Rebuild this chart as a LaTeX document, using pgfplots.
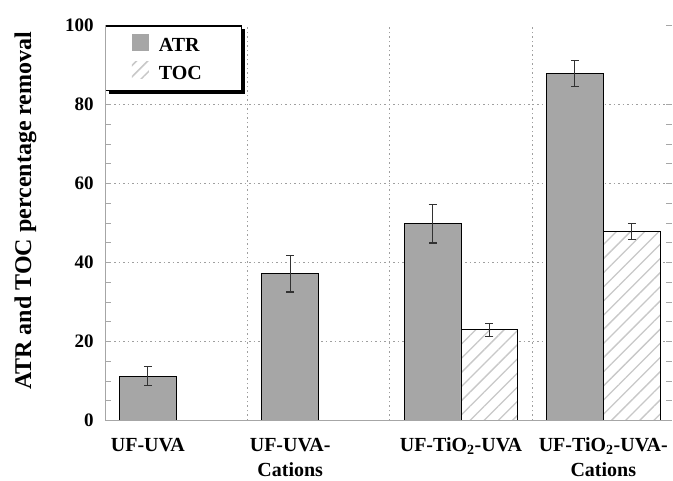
\documentclass[border=0pt]{standalone}
\usepackage{pgfplots}
\pgfplotsset{compat=1.18}
\usepackage{fontspec}
\setmainfont{Liberation Serif}
\usetikzlibrary{patterns.meta,shadows}
\definecolor{barfill}{RGB}{166,166,166}
\definecolor{hatchcol}{RGB}{200,200,200}
\definecolor{errcol}{RGB}{50,50,50}
\makeatletter
\tikzset{no preaction/.code={\let\tikz@preactions\pgfutil@empty\let\tikz@postactions\pgfutil@empty}}
\makeatother
\begin{document}
\begin{tikzpicture}[x=1pt,y=1pt]
\path[use as bounding box] (-105.2,-60) rectangle (567.8,420.3);
\begin{axis}[
  scale only axis,
  width=566.4pt, height=395pt,
  xmin=0.5, xmax=4.48,
  ymin=0, ymax=100,
  ytick={0,20,40,60,80},
  extra y ticks={100},
  extra y tick style={grid=none},
  minor y tick num=3,
  ytick pos=both,
  xtick={0.8,1.8,3,4},
  xticklabels={UF-UVA, UF-UVA-\\[1pt]Cations, UF-TiO\textsubscript{2}-UVA, UF-TiO\textsubscript{2}-UVA-\\[1pt]Cations},
  xtick pos=bottom,
  major x tick style={draw=none},
  extra x ticks={1.5,2.5,3.5},
  extra x tick labels={},
  extra x tick style={grid=major, major tick length=0pt},
  tick align=inside,
  major tick length=6pt,
  minor tick length=6pt,
  tick style={color=gray!70, line width=0.6pt},
  ymajorgrids,
  grid style={dash pattern=on 1.5pt off 3pt, color=gray!75, line width=0.9pt},
  axis line style={draw=none},
  xticklabel style={font=\fontsize{20}{24}\selectfont\bfseries, align=center, yshift=-8pt, anchor=north},
  yticklabel style={font=\fontsize{19}{20}\selectfont\bfseries, xshift=-8pt},
  /pgf/number format/assume math mode=true,
  ylabel={\fontsize{24}{26}\selectfont\bfseries ATR and TOC percentage removal},
  ylabel style={yshift=22pt, xshift=12pt},
  legend style={at={(0,1)}, anchor=north west, draw=black, line width=1.2pt, fill=white,
    drop shadow={shadow xshift=3pt, shadow yshift=-3pt, fill=black, opacity=1},
    font=\fontsize{20}{22}\selectfont\bfseries, inner xsep=26pt, inner ysep=8pt,
    row sep=6pt},
  legend cell align=left,
  ybar, bar width=0.4,
  extra description/.code={
    \draw[gray!70, line width=0.8pt] (rel axis cs:0,1) -- (rel axis cs:0,0) -- (rel axis cs:1,0);
  },
  error bars/y dir=both, error bars/y explicit,
  error bars/error bar style={color=errcol, line width=1.2pt},
  error bars/error mark options={rotate=90, mark size=4pt, line width=1.2pt, color=errcol},
]
\addplot[bar shift=-0.2, fill=barfill, draw=black, line width=0.9pt,
  legend image code/.code={\path[no preaction, draw=none, fill=none] (0pt,0pt) -- (25pt,0pt);
    \path[no preaction, draw=none, fill=barfill] (0pt,-5pt) rectangle (17pt,12pt);}]
  coordinates {(1,11.2) +- (0,2.45) (2,37.1) +- (0,4.6) (3,49.8) +- (0,4.9) (4,87.8) +- (0,3.2)};
\addlegendentry{ATR\hspace*{12pt}}
\addplot[bar shift=0.2, draw=black, line width=0.9pt, fill=white,
  postaction={pattern={Lines[angle=45,distance=10pt,line width=1.3pt]}, pattern color=hatchcol},
  legend image code/.code={\path[no preaction, draw=none, fill=none] (0pt,0pt) -- (25pt,0pt);
    \path[no preaction, draw=none, fill=none, pattern={Lines[angle=45,distance=8pt,line width=1.5pt]}, pattern color=hatchcol] (0pt,-5pt) rectangle (17pt,12pt);}]
  coordinates {(3,22.9) +- (0,1.7) (4,47.8) +- (0,2.1)};
\addlegendentry{TOC\hspace*{12pt}}
\end{axis}
\end{tikzpicture}
\end{document}
